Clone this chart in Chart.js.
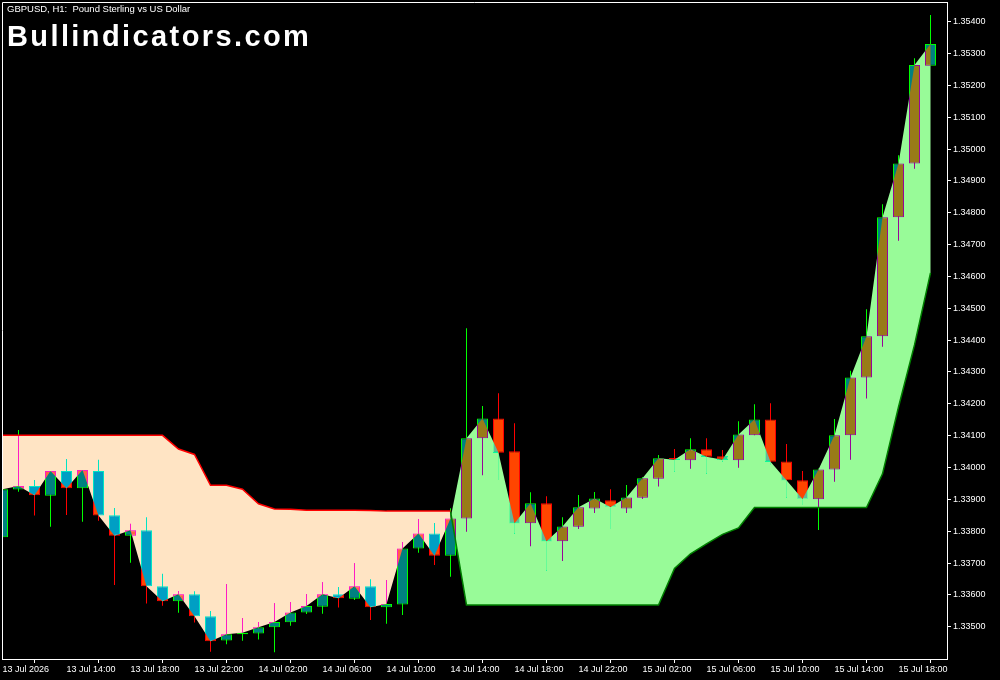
<!DOCTYPE html>
<html>
<head>
<meta charset="utf-8">
<script src="https://cdn.jsdelivr.net/npm/chart.js@4.4.1/dist/chart.umd.min.js"></script>
<style>
  html, body { margin: 0; padding: 0; background: #000; }
  #wrap { position: relative; width: 1000px; height: 680px; }
</style>
</head>
<body>
<div id="wrap"><canvas id="chart" width="1000" height="680"></canvas></div>
<script>
// ===========================
// DATA (GBPUSD H1, bar 0 = 13 Jul 10:00)
// ===========================
const titleText = "GBPUSD, H1:  Pound Sterling vs US Dollar";
const siteText = "Bullindicators.com";

const xTickBars = [0, 4, 8, 12, 16, 20, 24, 28, 32, 36, 40, 44, 48, 52, 56];
const xTickLabels = ["13 Jul 2026", "13 Jul 14:00", "13 Jul 18:00", "13 Jul 22:00", "14 Jul 02:00",
  "14 Jul 06:00", "14 Jul 10:00", "14 Jul 14:00", "14 Jul 18:00", "14 Jul 22:00", "15 Jul 02:00",
  "15 Jul 06:00", "15 Jul 10:00", "15 Jul 14:00", "15 Jul 18:00"];
const priceTicks = [1.335, 1.336, 1.337, 1.338, 1.339, 1.340, 1.341, 1.342, 1.343, 1.344,
  1.345, 1.346, 1.347, 1.348, 1.349, 1.350, 1.351, 1.352, 1.353, 1.354];

const openP = [1.33781, 1.33931, 1.33942, 1.33911, 1.33989, 1.33935, 1.33989, 1.33850, 1.33786, 1.33803,
  1.33627, 1.33580, 1.33602, 1.33533, 1.33457, 1.33476, 1.33479, 1.33498, 1.33514, 1.33545,
  1.33563, 1.33602, 1.33588, 1.33627, 1.33561, 1.33570, 1.33746, 1.33793, 1.33723, 1.33840,
  1.34092, 1.34154, 1.34051, 1.33825, 1.33888, 1.33768, 1.33814, 1.33871, 1.33897, 1.33871,
  1.33905, 1.33965, 1.34030, 1.34023, 1.34057, 1.34035, 1.34023, 1.34101, 1.34151, 1.34019,
  1.33960, 1.33900, 1.33994, 1.34101, 1.34283, 1.34412, 1.34786, 1.34955, 1.35262];
const highP = [1.33932, 1.34118, 1.33961, 1.33989, 1.34027, 1.33992, 1.34024, 1.33873, 1.33823, 1.33844,
  1.33666, 1.33612, 1.33611, 1.33549, 1.33634, 1.33527, 1.33515, 1.33574, 1.33578, 1.33603,
  1.33640, 1.33625, 1.33699, 1.33649, 1.33647, 1.33766, 1.33838, 1.33826, 1.33872, 1.34437,
  1.34193, 1.34233, 1.34139, 1.33922, 1.33910, 1.33844, 1.33914, 1.33923, 1.33932, 1.33945,
  1.33970, 1.34039, 1.34058, 1.34092, 1.34092, 1.34055, 1.34145, 1.34199, 1.34202, 1.34074,
  1.33989, 1.33997, 1.34152, 1.34304, 1.34497, 1.34827, 1.34981, 1.35285, 1.35421];
const lowP = [1.33779, 1.33924, 1.33849, 1.33814, 1.33851, 1.33830, 1.33833, 1.33631, 1.33701, 1.33573,
  1.33566, 1.33544, 1.33513, 1.33421, 1.33445, 1.33456, 1.33460, 1.33420, 1.33503, 1.33540,
  1.33541, 1.33560, 1.33584, 1.33521, 1.33509, 1.33537, 1.33732, 1.33694, 1.33657, 1.33798,
  1.33976, 1.33961, 1.33793, 1.33753, 1.33676, 1.33706, 1.33807, 1.33857, 1.33807, 1.33857,
  1.33901, 1.33940, 1.33987, 1.33996, 1.33981, 1.34018, 1.33999, 1.34101, 1.34008, 1.33905,
  1.33882, 1.33804, 1.33955, 1.34024, 1.34217, 1.34379, 1.34712, 1.34938, 1.35261];
const closeP = [1.33932, 1.33942, 1.33913, 1.33989, 1.33935, 1.33992, 1.33849, 1.33786, 1.33803, 1.33627,
  1.33580, 1.33602, 1.33533, 1.33454, 1.33476, 1.33481, 1.33498, 1.33515, 1.33545, 1.33565,
  1.33602, 1.33589, 1.33627, 1.33561, 1.33571, 1.33746, 1.33793, 1.33723, 1.33840, 1.34092,
  1.34154, 1.34046, 1.33825, 1.33888, 1.33768, 1.33815, 1.33875, 1.33903, 1.33876, 1.33906,
  1.33966, 1.34029, 1.34024, 1.34057, 1.34034, 1.34024, 1.34104, 1.34151, 1.34018, 1.33960,
  1.33901, 1.33994, 1.34101, 1.34283, 1.34412, 1.34786, 1.34955, 1.35264, 1.35330];

// trailing band: red line above price in the down leg, green line below in the up leg
const upperBand = [1.34101, 1.34101, 1.34101, 1.34101, 1.34101, 1.34101, 1.34101, 1.34101, 1.34101, 1.34101,
  1.34101, 1.34058, 1.34041, 1.33944, 1.33944, 1.33932, 1.33886, 1.33870, 1.33869, 1.33866,
  1.33866, 1.33866, 1.33866, 1.33865, 1.33863, 1.33863, 1.33863, 1.33863, 1.33863, null,
  null, null, null, null, null, null, null, null, null, null,
  null, null, null, null, null, null, null, null, null, null,
  null, null, null, null, null, null, null, null, null];
const lowerBand = [null, null, null, null, null, null, null, null, null, null,
  null, null, null, null, null, null, null, null, null, null,
  null, null, null, null, null, null, null, null, 1.33863, 1.33568,
  1.33568, 1.33568, 1.33568, 1.33568, 1.33568, 1.33568, 1.33568, 1.33568, 1.33568, 1.33568,
  1.33568, 1.33568, 1.33683, 1.33729, 1.33760, 1.33790, 1.33810, 1.33874, 1.33874, 1.33874,
  1.33874, 1.33874, 1.33874, 1.33874, 1.33874, 1.33980, 1.34190, 1.34385, 1.34611];

const FONT = "Liberation Sans";

// ===========================
// Candle helpers
// ===========================
const isBull = (i) => closeP[i] >= openP[i];
const bodies = openP.map((o, i) => ({ x: i, y: [o, closeP[i]] }));
const wicks = lowP.map((l, i) => ({ x: i, y: [l, highP[i]] }));
const bandPts = (arr) => arr.map((v, i) => ({ x: i, y: v }));

// fill between band and close, blended like the terminal does (xor-ish)
function fillBand(ctx, xs, ys, band, color) {
  const idx = [];
  band.forEach((v, i) => { if (v !== null) idx.push(i); });
  ctx.beginPath();
  idx.forEach((i, n) => {
    const px = xs.getPixelForValue(i), py = ys.getPixelForValue(band[i]);
    if (n === 0) ctx.moveTo(px, py); else ctx.lineTo(px, py);
  });
  for (let n = idx.length - 1; n >= 0; n--) {
    const i = idx[n];
    ctx.lineTo(xs.getPixelForValue(i), ys.getPixelForValue(closeP[i]));
  }
  ctx.closePath();
  ctx.fillStyle = color;
  ctx.fill();
}

const chartBits = {
  id: "chartBits",
  beforeDraw(chart) {
    const ctx = chart.ctx;
    ctx.save();
    ctx.fillStyle = "#000";
    ctx.fillRect(0, 0, chart.width, chart.height);
    ctx.restore();
  },
  afterDatasetDraw(chart, args) {
    if (args.index !== 2) return; // right after the candle bodies
    const { ctx, chartArea: a, scales } = chart;
    ctx.save();
    ctx.beginPath();
    ctx.rect(a.left, a.top, a.right - a.left, a.bottom - a.top);
    ctx.clip();
    ctx.globalCompositeOperation = "difference";
    fillBand(ctx, scales.x, scales.y, upperBand, "#FFE4C4");
    fillBand(ctx, scales.x, scales.y, lowerBand, "#98FB98");
    ctx.restore();
  },
  afterDraw(chart) {
    const { ctx, chartArea: a } = chart;
    ctx.save();
    ctx.strokeStyle = "#fff";
    ctx.lineWidth = 1;
    ctx.beginPath();
    ctx.moveTo(a.left + 0.5, a.bottom);
    ctx.lineTo(a.left + 0.5, a.top + 0.5);
    ctx.lineTo(a.right, a.top + 0.5);
    ctx.stroke();

    ctx.fillStyle = "#fff";
    ctx.textBaseline = "alphabetic";
    ctx.font = `9.5px "${FONT}"`;
    ctx.fillText(titleText, 7, 12);
    ctx.font = `bold 29px "${FONT}"`;
    ctx.letterSpacing = "2.4px";
    ctx.fillText(siteText, 7, 46);
    ctx.restore();
  }
};

// ===========================
// Chart
// ===========================
const ctx = document.getElementById("chart").getContext("2d");
const chart = new Chart(ctx, {
  type: "bar",
  data: {
    datasets: [{
      type: "line",
      label: "Upper",
      data: bandPts(upperBand),
      borderColor: "#FF0000",
      borderWidth: 1.5,
      pointRadius: 0,
      tension: 0,
      spanGaps: false
    }, {
      type: "line",
      label: "Lower",
      data: bandPts(lowerBand),
      borderColor: "#008000",
      borderWidth: 1.5,
      pointRadius: 0,
      tension: 0,
      spanGaps: false
    }, {
      label: "Body",
      data: bodies,
      backgroundColor: openP.map((o, i) => isBull(i) ? "#008080" : "#FF4500"),
      borderColor: openP.map((o, i) => isBull(i) ? "#00FF00" : "#FF0000"),
      borderWidth: 1,
      borderSkipped: false,
      barThickness: 11,
      grouped: false,
      inflateAmount: 0
    }, {
      label: "Wick",
      data: wicks,
      backgroundColor: openP.map((o, i) => isBull(i) ? "#00FF00" : "#FF0000"),
      borderWidth: 0,
      barThickness: 1,
      grouped: false,
      inflateAmount: 0
    }]
  },
  options: {
    responsive: false,
    animation: false,
    events: [],
    layout: { padding: { left: 2, top: 2, right: 0, bottom: 0 } },
    plugins: { legend: { display: false }, tooltip: { enabled: false }, title: { display: false } },
    scales: {
      x: {
        type: "linear",
        min: -0.03125,
        max: 59.03125,
        offset: false,
        afterBuildTicks: (s) => { s.ticks = xTickBars.map(v => ({ value: v })); },
        afterFit: (s) => { s.height = 21; s.paddingLeft = 0; s.paddingRight = 0; },
        grid: { drawOnChartArea: false, color: "#fff", tickLength: 4 },
        border: { color: "#fff" },
        ticks: {
          color: "#fff",
          font: { family: FONT, size: 9 },
          align: "start",
          padding: 1,
          maxRotation: 0,
          minRotation: 0,
          autoSkip: false,
          callback: (v, i) => xTickLabels[i]
        }
      },
      y: {
        type: "linear",
        position: "right",
        min: 1.333986,
        max: 1.354619,
        afterBuildTicks: (s) => { s.ticks = priceTicks.map(v => ({ value: v })); },
        afterFit: (s) => { s.width = 53; s.paddingTop = 0; s.paddingBottom = 0; },
        grid: { drawOnChartArea: false, color: "#fff", tickLength: 4 },
        border: { color: "#fff" },
        ticks: {
          color: "#fff",
          font: { family: FONT, size: 9 },
          padding: 2,
          autoSkip: false,
          callback: (v) => Number(v).toFixed(5)
        }
      }
    }
  },
  plugins: [chartBits]
});
</script>
</body>
</html>
